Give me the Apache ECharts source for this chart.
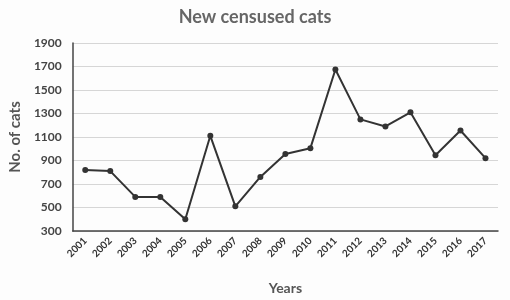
<!DOCTYPE html>
<html>
<head>
<meta charset="utf-8">
<script src="https://cdn.jsdelivr.net/npm/echarts@6/dist/echarts.min.js"></script>
<style>
  html, body { margin: 0; padding: 0; background: #fff; }
  #main { width: 510px; height: 300px; }
</style>
</head>
<body>
<div id="main"></div>
<script>
var years = ['2001', '2002', '2003', '2004', '2005', '2006', '2007', '2008', '2009',
             '2010', '2011', '2012', '2013', '2014', '2015', '2016', '2017'];
var cats = [820, 810, 590, 590, 400, 1110, 510, 760, 955, 1005, 1675, 1250, 1190, 1310, 945, 1155, 920];
var yTicks = [300, 500, 700, 900, 1100, 1300, 1500, 1700, 1900];

var myChart = echarts.init(document.getElementById('main'));

var option = {
    backgroundColor: '#fdfdfd',
    textStyle: { fontFamily: 'Lato' },
    title: {
        text: 'New censused cats',
        left: 'center',
        top: 3,
        textStyle: { fontSize: 18, fontWeight: 'bold', color: '#666', fontFamily: 'Lato' }
    },
    grid: { left: 62, right: 12, top: 43, bottom: 67 },
    xAxis: {
        type: 'category',
        data: years,
        name: 'Years',
        nameLocation: 'middle',
        nameGap: 50,
        nameTextStyle: { fontSize: 14, fontWeight: 'bold', color: '#555' },
        axisLine: { lineStyle: { color: '#444', width: 1.5 } },
        axisTick: { show: false },
        axisLabel: { rotate: 45, fontSize: 10, fontWeight: 'bold', color: '#333', margin: 8 }
    },
    yAxis: {
        type: 'value',
        min: yTicks[0],
        max: yTicks[yTicks.length - 1],
        interval: 200,
        name: 'No. of cats',
        nameLocation: 'middle',
        nameGap: 44,
        nameTextStyle: { fontSize: 15, fontWeight: 'bold', color: '#555' },
        axisLine: { show: true, lineStyle: { color: '#444', width: 1.5 } },
        axisTick: { show: false },
        axisLabel: {
            fontSize: 12, fontWeight: 'bold', color: '#444', margin: 11,
            formatter: function (v) { return String(v); }
        },
        splitLine: { lineStyle: { color: '#d6d6d6', width: 1 } }
    },
    series: [{
        type: 'line',
        data: cats,
        symbol: 'circle',
        symbolSize: 6,
        lineStyle: { color: '#333', width: 2 },
        itemStyle: { color: '#333' }
    }]
};

myChart.setOption(option);
</script>
</body>
</html>
